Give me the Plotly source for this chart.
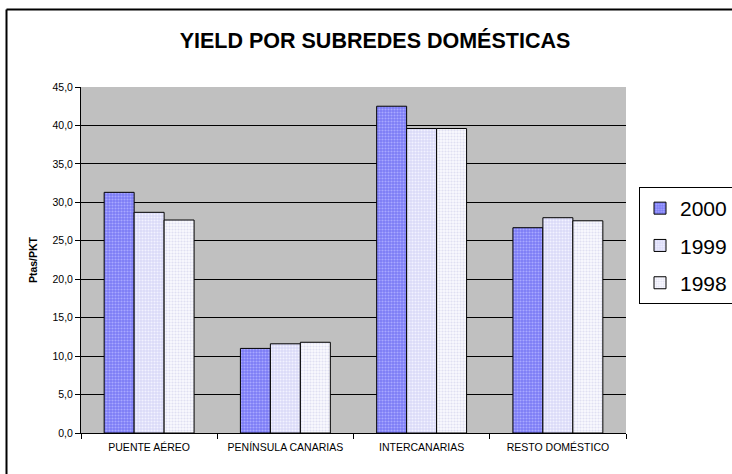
import plotly.graph_objects as go

categories = ["PUENTE AÉREO", "PENÍNSULA CANARIAS", "INTERCANARIAS", "RESTO DOMÉSTICO"]
series_names = ["2000", "1999", "1998"]
y2000 = [31.3, 11.0, 42.5, 26.7]
y1999 = [28.7, 11.6, 39.6, 28.0]
y1998 = [27.7, 11.8, 39.6, 27.6]
yticks = [0, 5, 10, 15, 20, 25, 30, 35, 40, 45]

styles = [
    dict(bg="#7C7CF6", fg="#A8A8FF"),
    dict(bg="#DADAF8", fg="#F2F2FF"),
    dict(bg="#FAFAFF", fg="#E0E0F2"),
]

fig = go.Figure()
for name, vals, st in zip(series_names, [y2000, y1999, y1998], styles):
    fig.add_trace(go.Bar(
        x=categories, y=vals, name=name, legendgroup=name,
        marker=dict(color=st["bg"], line=dict(color="#000000", width=1),
                    pattern=dict(shape=".", fgcolor=st["fg"], bgcolor=st["bg"],
                                 size=3, solidity=0.4, fillmode="replace")),
    ))

L, R, T, B = 81, 626, 87, 433
W, H = 732, 474
pw, ph = R - L, B - T

border = dict(color="#000000", width=2)
fig.update_layout(
    width=W, height=H,
    margin=dict(l=L, r=W - R, t=T, b=H - B, autoexpand=False),
    paper_bgcolor="white", plot_bgcolor="#C0C0C0",
    barmode="group", bargap=0.34, bargroupgap=0,
    font=dict(family="Arial, Liberation Sans, sans-serif", color="#000000"),
    separators=",.",
    title=dict(text="<b>YIELD POR SUBREDES DOMÉSTICAS</b>", x=(375 - L) / pw, xref="paper",
               xanchor="center", y=1 - 40 / H, yanchor="middle",
               font=dict(size=21.5, family="Arial, Liberation Sans, sans-serif")),
    legend=dict(x=(639 - L) / pw, y=(B - 187) / ph, xanchor="left", yanchor="top",
                bgcolor="white", bordercolor="#000000", borderwidth=1,
                font=dict(size=21), itemwidth=30, tracegroupgap=7,
                traceorder="grouped"),
    xaxis=dict(showgrid=False, ticks="outside", ticklen=5, tickcolor="#000",
               tickson="boundaries", showline=True, linecolor="#000", linewidth=1,
               tickfont=dict(size=10.5), ticklabelstandoff=4),
    yaxis=dict(range=[0, 45], tickvals=yticks, tickformat=".1f", showgrid=True,
               gridcolor="#000000", gridwidth=1, ticks="outside", ticklen=5,
               tickcolor="#000", showline=True, linecolor="#000", linewidth=1,
               tickfont=dict(size=10.5), zeroline=False,
               title=dict(text="<b>Ptas/PKT</b>", font=dict(size=10.5), standoff=12)),
    shapes=[
        dict(type="line", xref="paper", yref="paper",
             x0=(6.5 - L) / pw, x1=(760 - L) / pw,
             y0=(B - 9.5) / ph, y1=(B - 9.5) / ph, line=border, layer="below"),
        dict(type="line", xref="paper", yref="paper",
             x0=(6.5 - L) / pw, x1=(6.5 - L) / pw,
             y0=(B - 9.5) / ph, y1=(B - 500) / ph, line=border, layer="below"),
    ],
)

fig.write_html("out.html")
